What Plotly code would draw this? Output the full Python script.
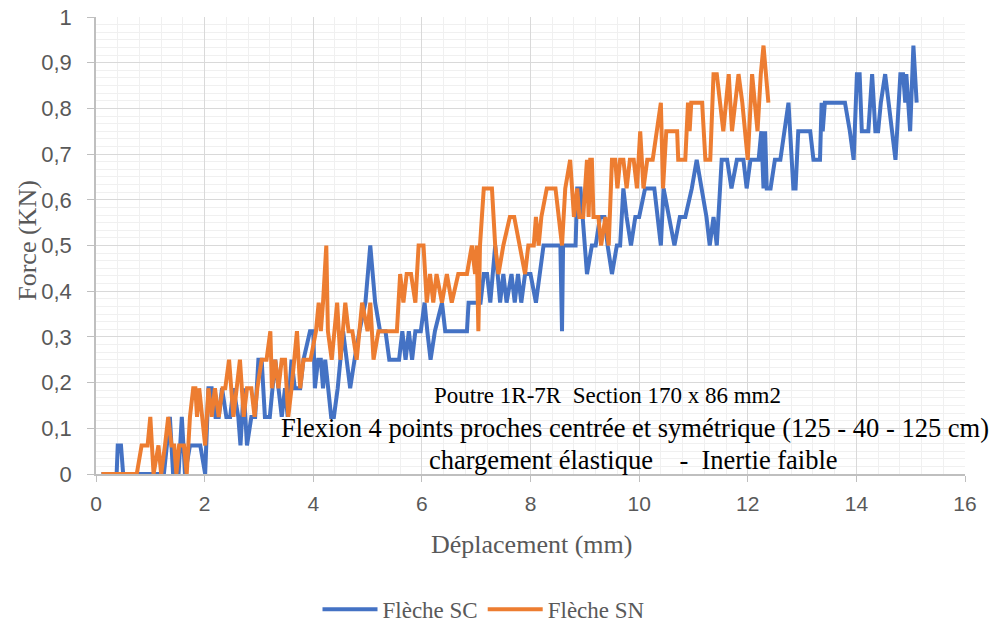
import plotly.graph_objects as go

# ---- data ----
sc_x = [0.10, 0.38, 0.40, 0.46, 0.50, 0.90, 1.00, 1.25, 1.36, 1.42, 1.52, 1.58, 1.64, 1.73, 1.85, 1.92,
        2.01, 2.07, 2.13, 2.20, 2.26, 2.32, 2.40, 2.47, 2.53, 2.62, 2.66, 2.72, 2.78, 2.86, 2.93, 2.99,
        3.05, 3.11, 3.20, 3.30, 3.36, 3.42, 3.48, 3.53, 3.60, 3.66, 3.76, 3.82, 3.94, 4.00, 4.03, 4.09,
        4.14, 4.18, 4.22, 4.33, 4.38, 4.45, 4.55, 4.62, 4.68, 4.76, 4.85, 4.96, 5.05, 5.14, 5.23, 5.33,
        5.40, 5.58, 5.64, 5.70, 5.76, 5.82, 5.88, 5.98, 6.05, 6.10, 6.16, 6.24, 6.37, 6.43, 6.83, 6.86,
        7.08, 7.14, 7.20, 7.26, 7.35, 7.44, 7.50, 7.56, 7.65, 7.71, 7.77, 7.83, 7.90, 8.00, 8.10, 8.24,
        8.30, 8.55, 8.58, 8.60, 8.83, 8.86, 8.92, 8.96, 9.04, 9.13, 9.20, 9.28, 9.36, 9.42, 9.50, 9.59,
        9.65, 9.71, 9.77, 9.85, 9.93, 10.00, 10.11, 10.28, 10.40, 10.45, 10.55, 10.65, 10.75, 10.85, 10.97, 11.06,
        11.15, 11.24, 11.30, 11.37, 11.43, 11.52, 11.62, 11.70, 11.80, 11.92, 11.98, 12.05, 12.20, 12.25, 12.29, 12.32,
        12.35, 12.42, 12.50, 12.60, 12.75, 12.84, 12.88, 12.93, 13.15, 13.21, 13.33, 13.36, 13.38, 13.42, 13.79, 13.88,
        13.95, 14.01, 14.06, 14.10, 14.22, 14.29, 14.35, 14.40, 14.45, 14.53, 14.72, 14.81, 14.86, 14.90, 14.92, 14.99,
        15.05, 15.11]
sc_y = [0, 0, 0.0625, 0.0625, 0, 0, 0, 0, 0.125, 0, 0, 0.125, 0, 0.0625, 0.0625, 0.0625,
        0, 0.1875, 0.1875, 0.125, 0.125, 0.1875, 0.125, 0.125, 0.1875, 0.125, 0.0625, 0.1875, 0.0625, 0.125, 0.125, 0.25,
        0.25, 0.125, 0.125, 0.25, 0.1875, 0.125, 0.1875, 0.125, 0.25, 0.1875, 0.1875, 0.25, 0.3125, 0.3125, 0.1875, 0.25,
        0.25, 0.1875, 0.25, 0.125, 0.125, 0.1875, 0.3125, 0.25, 0.1875, 0.25, 0.3125, 0.375, 0.5, 0.375, 0.3125, 0.3125,
        0.25, 0.25, 0.3125, 0.25, 0.3125, 0.25, 0.3125, 0.3125, 0.375, 0.3125, 0.25, 0.3125, 0.375, 0.3125, 0.3125, 0.375,
        0.375, 0.4375, 0.4375, 0.375, 0.5, 0.375, 0.4375, 0.375, 0.4375, 0.375, 0.4375, 0.375, 0.4375, 0.4375, 0.375, 0.5,
        0.5, 0.5, 0.3125, 0.5, 0.5, 0.625, 0.625, 0.5625, 0.4375, 0.5, 0.5, 0.5625, 0.5625, 0.5, 0.4375, 0.5,
        0.5, 0.625, 0.5625, 0.5, 0.5625, 0.5625, 0.625, 0.625, 0.5, 0.625, 0.5625, 0.5, 0.5625, 0.5625, 0.625, 0.6875,
        0.625, 0.5625, 0.5, 0.5625, 0.5, 0.6875, 0.6875, 0.625, 0.6875, 0.6875, 0.625, 0.6875, 0.6875, 0.75, 0.625, 0.75,
        0.625, 0.625, 0.6875, 0.6875, 0.8125, 0.625, 0.625, 0.75, 0.75, 0.6875, 0.6875, 0.8125, 0.75, 0.8125, 0.8125, 0.75,
        0.6875, 0.875, 0.875, 0.75, 0.75, 0.875, 0.75, 0.75, 0.8125, 0.875, 0.6875, 0.875, 0.875, 0.8125, 0.875, 0.75,
        0.9375, 0.8125]

sn_x = [0.10, 0.75, 0.84, 0.95, 1.00, 1.06, 1.15, 1.20, 1.27, 1.33, 1.39, 1.44, 1.48, 1.53, 1.62, 1.67,
        1.73, 1.79, 1.83, 1.86, 1.90, 2.01, 2.07, 2.13, 2.19, 2.26, 2.33, 2.38, 2.45, 2.53, 2.59, 2.65,
        2.72, 2.78, 2.86, 2.92, 2.97, 3.05, 3.14, 3.21, 3.24, 3.30, 3.36, 3.42, 3.48, 3.54, 3.60, 3.70,
        3.76, 3.82, 3.95, 4.05, 4.10, 4.14, 4.18, 4.24, 4.27, 4.34, 4.44, 4.50, 4.59, 4.65, 4.72, 4.80,
        4.90, 5.00, 5.05, 5.11, 5.20, 5.54, 5.60, 5.66, 5.72, 5.80, 5.88, 5.94, 6.03, 6.09, 6.15, 6.21,
        6.27, 6.37, 6.46, 6.55, 6.67, 6.83, 6.92, 6.98, 7.01, 7.04, 7.07, 7.14, 7.29, 7.35, 7.41, 7.50,
        7.62, 7.70, 7.80, 7.90, 7.96, 8.06, 8.10, 8.15, 8.20, 8.30, 8.46, 8.58, 8.64, 8.73, 8.80, 8.86,
        8.90, 8.97, 9.04, 9.07, 9.10, 9.13, 9.16, 9.25, 9.30, 9.38, 9.44, 9.50, 9.56, 9.60, 9.65, 9.71,
        9.77, 9.83, 9.90, 9.96, 10.02, 10.08, 10.15, 10.25, 10.40, 10.44, 10.50, 10.70, 10.72, 10.85, 10.90, 10.93,
        10.96, 11.16, 11.22, 11.31, 11.37, 11.43, 11.55, 11.65, 11.71, 11.83, 11.90, 12.00, 12.08, 12.13, 12.18, 12.24,
        12.29, 12.38]
sn_y = [0, 0, 0.0625, 0.0625, 0.125, 0, 0.0625, 0, 0.0625, 0.125, 0.0625, 0.0625, 0, 0.0625, 0.0625, 0,
        0.125, 0.1875, 0.1875, 0.125, 0.1875, 0.0625, 0.1875, 0.125, 0.1875, 0.125, 0.1875, 0.1875, 0.25, 0.125, 0.1875, 0.25,
        0.125, 0.1875, 0.1875, 0.125, 0.1875, 0.25, 0.25, 0.3125, 0.1875, 0.25, 0.1875, 0.25, 0.25, 0.125, 0.1875, 0.3125,
        0.1875, 0.25, 0.25, 0.3125, 0.375, 0.3125, 0.375, 0.5, 0.3125, 0.25, 0.375, 0.25, 0.375, 0.3125, 0.3125, 0.25,
        0.375, 0.3125, 0.375, 0.25, 0.3125, 0.3125, 0.4375, 0.375, 0.4375, 0.4375, 0.375, 0.5, 0.5, 0.375, 0.4375, 0.375,
        0.4375, 0.375, 0.4375, 0.375, 0.4375, 0.4375, 0.5, 0.4375, 0.5, 0.3125, 0.5, 0.625, 0.625, 0.5, 0.4375, 0.5,
        0.5625, 0.5625, 0.5, 0.4375, 0.5, 0.5, 0.5625, 0.5, 0.5625, 0.625, 0.625, 0.5, 0.625, 0.6875, 0.5625, 0.625,
        0.5625, 0.5625, 0.6875, 0.5625, 0.6875, 0.6875, 0.5625, 0.5625, 0.5, 0.5625, 0.5, 0.6875, 0.6875, 0.625, 0.6875, 0.6875,
        0.625, 0.6875, 0.6875, 0.625, 0.75, 0.625, 0.6875, 0.6875, 0.8125, 0.625, 0.75, 0.75, 0.6875, 0.6875, 0.8125, 0.75,
        0.8125, 0.8125, 0.6875, 0.6875, 0.875, 0.875, 0.75, 0.875, 0.75, 0.875, 0.8125, 0.6875, 0.875, 0.8125, 0.75, 0.875,
        0.9375, 0.8125]

series_names = ["Flèche SC", "Flèche SN"]
series_colors = ["#4472C4", "#ED7D31"]
x_title = "Déplacement (mm)"
y_title = "Force (KN)"
note_lines = ["Poutre 1R-7R  Section 170 x 86 mm2",
              "Flexion 4 points proches centrée et symétrique (125 - 40 - 125 cm)",
              "chargement élastique    -  Inertie faible"]

# the page body margin is removed (see post_script), so figure px == page px
W, H = 995, 625
L, R, T, B = 96, W - 965, 17, H - 474.5
PW, PH = W - L - R, H - T - B


def px_to_paper(px, py):
    # page pixel -> paper coordinate
    return (px - L) / PW, (H - B - py) / PH


fig = go.Figure()
fig.add_trace(go.Scatter(x=sc_x, y=sc_y, mode="lines", name=series_names[0],
                         line=dict(color=series_colors[0], width=4)))
fig.add_trace(go.Scatter(x=sn_x, y=sn_y, mode="lines", name=series_names[1],
                         line=dict(color=series_colors[1], width=4)))

serif = "Liberation Serif"
grey = "#595959"
lx, ly = px_to_paper(484, 610)
fig.update_layout(
    width=W, height=H,
    margin=dict(l=L, r=R, t=T, b=B, autoexpand=False),
    paper_bgcolor="white", plot_bgcolor="white",
    separators=", ",
    showlegend=True,
    legend=dict(orientation="h", x=lx, xanchor="center", y=ly, yanchor="middle",
                font=dict(family=serif, size=23, color=grey),
                itemwidth=55, tracegroupgap=0),
    xaxis=dict(range=[0, 16], dtick=2, tick0=0, showgrid=True, gridcolor="#D9D9D9", gridwidth=1,
               minor=dict(dtick=0.4, showgrid=True, gridcolor="#F0F0F0", gridwidth=1),
               showline=True, linecolor="#BFBFBF", linewidth=1.5,
               ticks="outside", ticklen=6, tickcolor="#BFBFBF",
               zeroline=False, automargin=False, ticklabelstandoff=4,
               ticklabeloverflow="allow",
               tickfont=dict(family="Liberation Sans", size=21, color=grey)),
    yaxis=dict(range=[0, 1], dtick=0.1, tick0=0, showgrid=True, gridcolor="#D9D9D9", gridwidth=1,
               minor=dict(dtick=0.1 / 6, showgrid=True, gridcolor="#F0F0F0", gridwidth=1),
               showline=True, linecolor="#BFBFBF", linewidth=1.5,
               ticks="outside", ticklen=7, tickcolor="#BFBFBF",
               zeroline=False, automargin=False, ticklabelstandoff=11,
               ticklabeloverflow="allow",
               tickfont=dict(family="Liberation Sans", size=22, color=grey)),
)

# axis titles
tx, ty = px_to_paper(531, 545)
fig.add_annotation(text=x_title, xref="paper", yref="paper", x=tx, y=ty,
                   xanchor="center", yanchor="middle", showarrow=False,
                   font=dict(family=serif, size=26, color=grey))
tx, ty = px_to_paper(28, 241)
fig.add_annotation(text=y_title, xref="paper", yref="paper", x=tx, y=ty, textangle=-90,
                   xanchor="center", yanchor="middle", showarrow=False,
                   font=dict(family=serif, size=26, color=grey))

note_px = [607, 635, 633]
note_py = [396, 428, 460]
note_size = [23, 26.5, 26.5]
for txt, px, py, sz in zip(note_lines, note_px, note_py, note_size):
    nx, ny = px_to_paper(px, py)
    fig.add_annotation(text=txt, xref="paper", yref="paper", x=nx, y=ny,
                       xanchor="center", yanchor="middle", showarrow=False,
                       font=dict(family=serif, size=sz, color="#000000"))

fig.write_html("out.html",
               config={"displayModeBar": False},
               post_script="document.body.style.margin='0';document.body.style.overflow='hidden';")
